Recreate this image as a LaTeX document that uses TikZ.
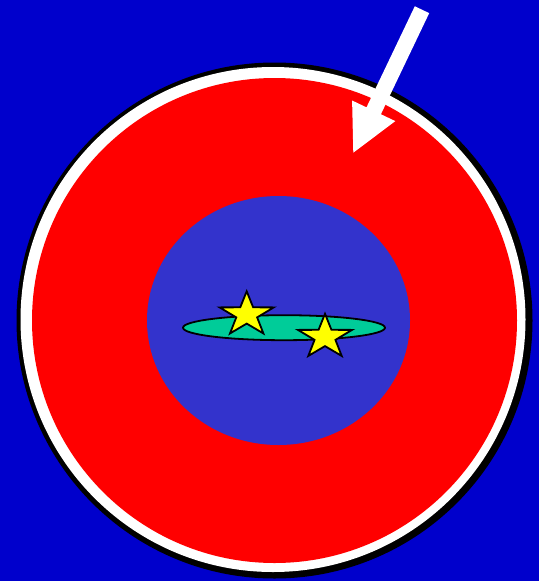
\documentclass[tikz,border=0pt]{standalone}
\usetikzlibrary{calc}
\definecolor{bgblue}{RGB}{0,0,204}
\definecolor{coreblue}{RGB}{51,51,204}
\definecolor{diskgreen}{RGB}{0,204,153}
\definecolor{staryellow}{RGB}{255,255,0}
\tikzset{
  starsty/.style={fill=staryellow, draw=black, line width=1.8pt, line join=miter},
  disksty/.style={fill=diskgreen, draw=black, line width=1.8pt}
}
\newcommand\mystar[2]{%
  \draw[starsty, shift={(#1,#2)}, xscale=1.22]
    (270:23.3) -- (306:9) -- (342:23.3) -- (18:9) -- (54:23.3) -- (90:9)
    -- (126:23.3) -- (162:9) -- (198:23.3) -- (234:9) -- cycle;}
\begin{document}
\begin{tikzpicture}[x=1pt,y=-1pt]
\fill[bgblue] (0,0) rectangle (539,581);
\useasboundingbox (0,0) rectangle (539,581);
% shadow / rim
\fill[black] (274.5,320.5) circle (258);
\fill[white] (273,319.5) circle (252.5);
\fill[red] (274.5,320.5) circle (242.5);
% core
\fill[coreblue] (278.5,320.5) ellipse (131.5 and 124.5);
% disk
\draw[disksty] (284,327.7) ellipse (101 and 12.5);
% stars
\mystar{246.7}{314.6}
\mystar{325}{337.1}
% arrow
\coordinate (atop) at (422,9.7);
\coordinate (abase) at (373.7,110.8);
\coordinate (atip) at (353.3,152.7);
\fill[white]
  ($(atop)+(7.2,3.45)$) -- ($(abase)+(7.2,3.45)$) -- ($(abase)+(21.6,10.3)$)
  -- (atip) -- ($(abase)+(-21.6,-10.3)$) -- ($(abase)+(-7.2,-3.45)$)
  -- ($(atop)+(-7.2,-3.45)$) -- cycle;
\end{tikzpicture}
\end{document}
